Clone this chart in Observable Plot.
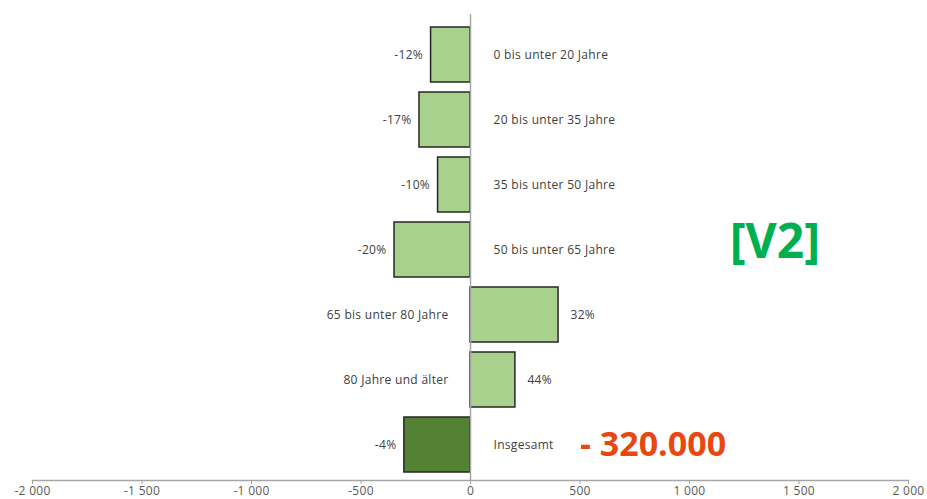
<!DOCTYPE html>
<html><head><meta charset="utf-8">
<script src="https://cdn.jsdelivr.net/npm/d3@7"></script>
<script src="https://cdn.jsdelivr.net/npm/@observablehq/plot@0.6"></script>
<style>
body{margin:0;background:#fff;overflow:hidden}
svg{letter-spacing:0.3px}
g[font-size] text, g[font-size]{letter-spacing:0}
</style>
</head><body><div id="chart"></div>
<script>
const categories = ["0 bis unter 20 Jahre", "20 bis unter 35 Jahre", "35 bis unter 50 Jahre", "50 bis unter 65 Jahre", "65 bis unter 80 Jahre", "80 Jahre und älter", "Insgesamt"];
const values = [-180, -233, -148, -347, 402, 205, -302];
const percentLabels = ["-12%", "-17%", "-10%", "-20%", "32%", "44%", "-4%"];
const xTicks = [-2000, -1500, -1000, -500, 0, 500, 1000, 1500, 2000];
const annotationVersion = "[V2]";
const annotationTotal = "- 320.000";

const data = categories.map((c, i) => ({category: c, value: values[i], pct: percentLabels[i]}));
const neg = data.filter(d => d.value < 0);
const pos = data.filter(d => d.value >= 0);
const fmt = d3.formatLocale({decimal: ",", thousands: " ", grouping: [3], currency: ["", "€"], minus: "-"}).format(",");

const chart = Plot.plot({
  width: 927, height: 499,
  marginLeft: 32, marginRight: 19, marginTop: 18, marginBottom: 19,
  style: {fontFamily: "Open Sans", fontSize: "12px", color: "#595959", background: "#fff"},
  x: {domain: [-2000, 2000], axis: null},
  y: {domain: categories, paddingInner: 0.16, paddingOuter: 0.1, axis: null},
  marks: [
    Plot.frame({anchor: "bottom", stroke: "#a6a6a6", strokeWidth: 1.5}),
    Plot.axisX({ticks: xTicks, tickFormat: fmt, tickSize: 4, tickPadding: 2, stroke: "#a6a6a6", fill: "#595959", label: null}),
    Plot.barX(data, {y: "category", x: "value", fill: d => d.category === "Insgesamt" ? "#548235" : "#a9d18e", stroke: "#262626", strokeWidth: 1.5}),
    Plot.ruleX([0], {stroke: "#a6a6a6", strokeWidth: 1.5, insetTop: -4}),
    Plot.text(neg, {y: "category", x: "value", text: "pct", textAnchor: "end", dx: -8, fill: "#404040"}),
    Plot.text(pos, {y: "category", x: "value", text: "pct", textAnchor: "start", dx: 12, fill: "#404040"}),
    Plot.text(neg, {y: "category", x: 0, text: "category", textAnchor: "start", dx: 23, fill: "#404040"}),
    Plot.text(pos, {y: "category", x: 0, text: "category", textAnchor: "end", dx: -22, fill: "#404040"}),
    Plot.text([annotationVersion], {x: 1390, y: () => categories[3], text: d => d, dy: -7, fill: "#00b050", fontSize: 48, fontWeight: "bold"}),
    Plot.text([annotationTotal], {x: 500, y: () => categories[6], text: d => d, textAnchor: "start", fill: "#e8470f", fontSize: 34, fontWeight: "bold"})
  ]
});
document.getElementById("chart").append(chart);
</script>
</body></html>
